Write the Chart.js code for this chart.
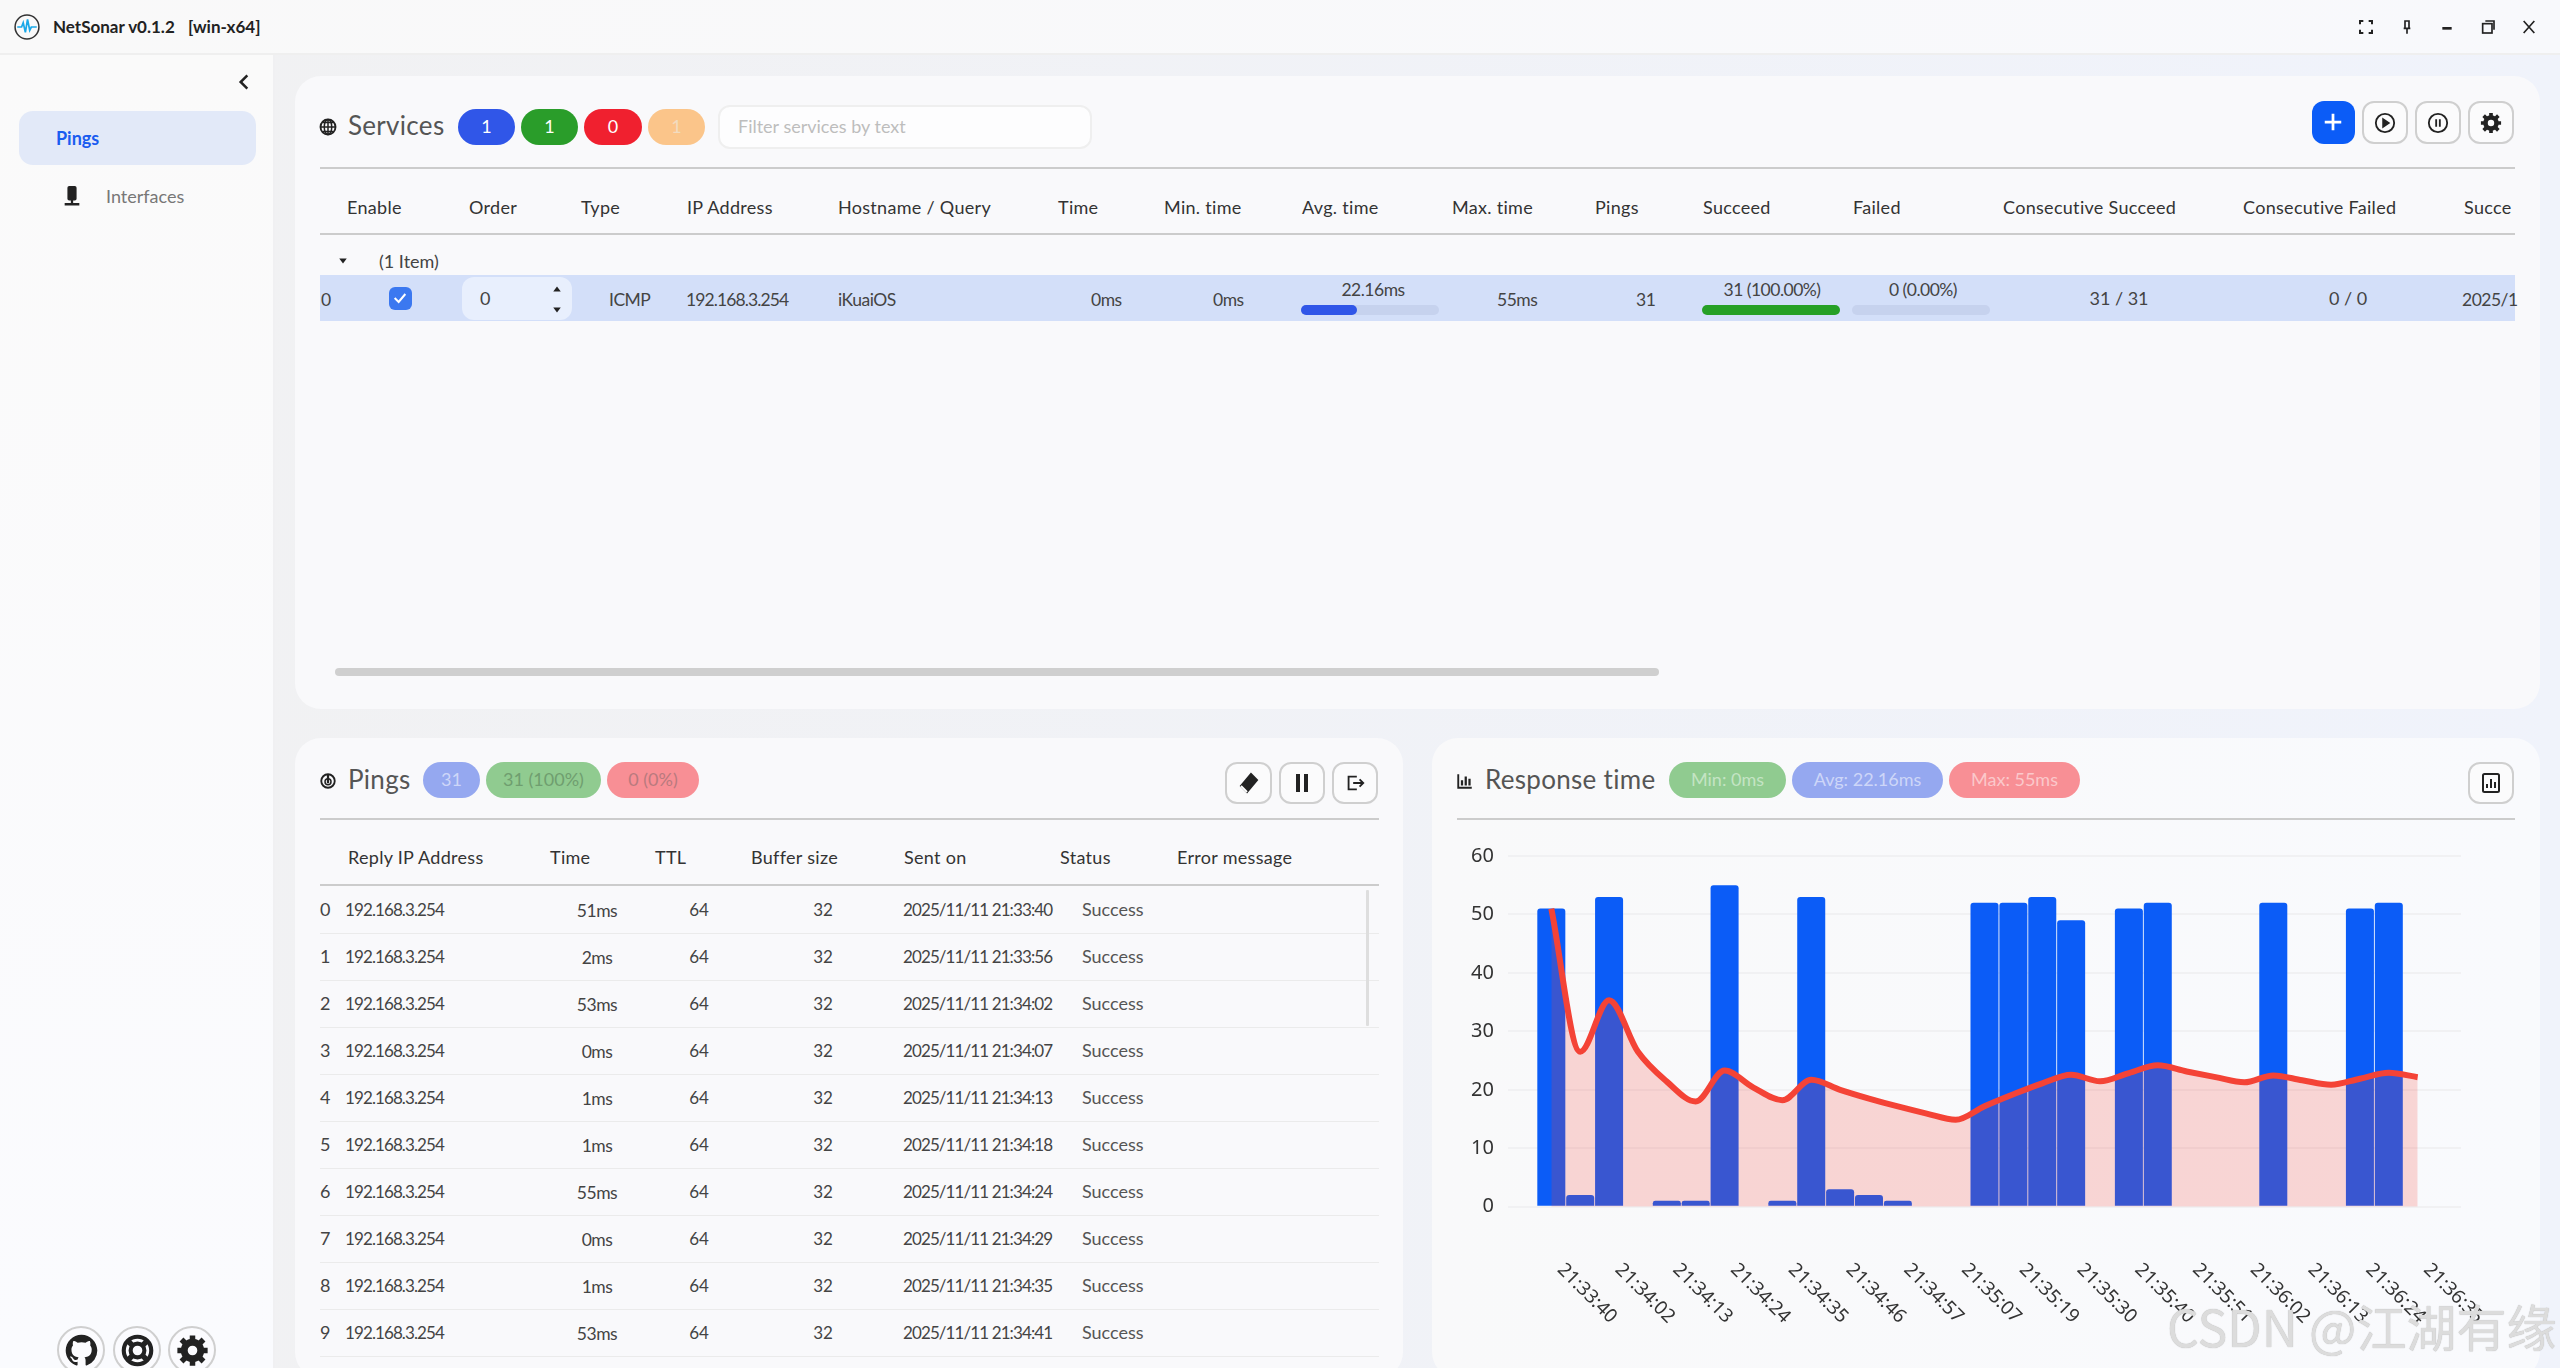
<!DOCTYPE html>
<html>
<head>
<meta charset="utf-8">
<title>NetSonar</title>
<script src="https://cdn.jsdelivr.net/npm/chart.js@4"></script>
<style>
html, body { margin: 0; padding: 0; width: 2560px; height: 1368px; overflow: hidden; }
body { position: relative; background: linear-gradient(90deg, #f1f1f2, #f0f3fb); font-family: Lato, sans-serif; color: #333; }
.box { position: absolute; box-sizing: border-box; }
.box svg { display: block; }
.txt { position: absolute; white-space: nowrap; transform: translateY(-50%); line-height: 1.2; }
.mid { transform: translate(-50%, -50%); }
.btn { position: absolute; box-sizing: border-box; border: 2px solid #cfcfcf; border-radius: 12px; background: #fbfbfc; display: flex; align-items: center; justify-content: center; }
.btn svg { display: block; }
#chartWrap { position: absolute; left: 1440px; top: 830px; width: 1100px; height: 538px; }
</style>
</head>
<body>
<div id="ui"></div>
<div id="chartWrap"><canvas id="responseChart" width="1100" height="538"></canvas></div>
<div id="watermark" class="txt" style="left:2167px;top:1325px;font:50px 'Noto Sans CJK SC';color:#dcdcdc;text-shadow:0 0 1px #aaa;">CSDN @江湖有缘</div>

<script>
"use strict";

// 33 slots, the first and the last one are empty
const categories = ['', '21:33:40', '21:33:56', '21:34:02', '21:34:07', '21:34:13', '21:34:18', '21:34:24', '21:34:29', '21:34:35', '21:34:41',
    '21:34:46', '21:34:51', '21:34:57', '21:35:02', '21:35:07', '21:35:13', '21:35:19', '21:35:24', '21:35:30', '21:35:35',
    '21:35:40', '21:35:46', '21:35:51', '21:35:57', '21:36:02', '21:36:07', '21:36:13', '21:36:18', '21:36:24', '21:36:29', '21:36:35', ''];
const responseTimes = [null, 51, 2, 53, 0, 1, 1, 55, 0, 1, 53, 3, 2, 1, 0, 0, 52, 52, 53, 49, 0, 51, 52, 0, 0, 0, 52, 0, 0, 51, 52, 0, null];
const averageTimes = [null, 51, 26.5, 35.33, 26.5, 21.4, 18, 23.29, 20.38, 18.22, 21.7, 20, 18.5, 17.15, 15.93, 14.87, 17.19, 19.24, 21.11, 22.58, 21.45,
    22.86, 24.18, 23.13, 22.17, 21.28, 22.46, 21.63, 20.86, 21.9, 22.9, 22.16, null];

const serviceColumns = ['Enable', 'Order', 'Type', 'IP Address', 'Hostname / Query', 'Time', 'Min. time', 'Avg. time', 'Max. time', 'Pings', 'Succeed', 'Failed', 'Consecutive Succeed', 'Consecutive Failed', 'Succe'];
const serviceColumnX = [347, 469, 581, 687, 838, 1058, 1164, 1302, 1452, 1595, 1703, 1853, 2003, 2243, 2464];
const pingColumns = ['Reply IP Address', 'Time', 'TTL', 'Buffer size', 'Sent on', 'Status', 'Error message'];
const pingColumnX = [348, 550, 655, 751, 904, 1060, 1177];
const pingTimes = ['51ms', '2ms', '53ms', '0ms', '1ms', '1ms', '55ms', '0ms', '1ms', '53ms'];
const pingSentOn = ['21:33:40', '21:33:56', '21:34:02', '21:34:07', '21:34:13', '21:34:18', '21:34:24', '21:34:29', '21:34:35', '21:34:41'];

const ui = document.getElementById('ui');
const narrow = 'letter-spacing:-0.9px;';
const wide = 'letter-spacing:0.3px;';

function box(x, y, w, h, bg, radius, extra) {
    let el = document.createElement('div');
    el.className = 'box';
    el.style.cssText = `left:${x}px;top:${y}px;width:${w}px;height:${h}px;background:${bg};border-radius:${radius || 0}px;${extra || ''}`;
    ui.appendChild(el);
    return el;
}

function text(str, x, y, size, color, extra, centered) {
    let el = document.createElement('div');
    el.className = centered ? 'txt mid' : 'txt';
    el.textContent = str;
    el.style.cssText = `left:${x}px;top:${y}px;font-size:${size}px;color:${color};${extra || ''}`;
    ui.appendChild(el);
    return el;
}

function pill(str, x, w, y, h, bg, color) {
    box(x, y, w, h, bg, 18);
    text(str, x + w / 2, y + h / 2, 18, color, '', true);
}

function icon(x, y, size, inner) {
    let el = document.createElement('div');
    el.className = 'box';
    el.style.cssText = `left:${x - size / 2}px;top:${y - size / 2}px;width:${size}px;height:${size}px;`;
    el.innerHTML = `<svg width="${size}" height="${size}" viewBox="0 0 24 24" fill="none" stroke="#222" stroke-width="2">${inner}</svg>`;
    ui.appendChild(el);
}

function button(x, y, w, h, inner, size) {
    let el = document.createElement('div');
    el.className = 'btn';
    el.style.cssText = `left:${x}px;top:${y}px;width:${w}px;height:${h}px;`;
    el.innerHTML = `<svg width="${size}" height="${size}" viewBox="0 0 24 24" fill="none" stroke="#222" stroke-width="2">${inner}</svg>`;
    ui.appendChild(el);
}

const gearPath = '<circle cx="12" cy="12" r="6" stroke-width="5"/><path d="M12 1v5M12 18v5M1 12h5M18 12h5M4 4l4 4M16 16l4 4M20 4l-4 4M8 16l-4 4" stroke-width="4"/>';
const playPath = '<circle cx="12" cy="12" r="10"/><path d="M10 8l6 4-6 4z" fill="#222"/>';
const pausePath = '<circle cx="12" cy="12" r="10"/><path d="M10 8v8M14 8v8"/>';
const chartPath = '<rect x="4" y="3" width="16" height="18" rx="1.5"/><path d="M8 17v-4M12 17V8M16 17v-6"/>';
const githubPath = '<path fill="#222" stroke="none" d="M12 .5C5.65.5.5 5.65.5 12c0 5.08 3.29 9.39 7.86 10.91.58.11.79-.25.79-.56v-2.17c-3.2.7-3.87-1.36-3.87-1.36-.53-1.33-1.29-1.69-1.29-1.69-1.05-.72.08-.7.08-.7 1.16.08 1.77 1.19 1.77 1.19 1.03 1.77 2.7 1.26 3.36.96.1-.75.4-1.26.73-1.55-2.55-.29-5.24-1.28-5.24-5.69 0-1.26.45-2.29 1.19-3.09-.12-.29-.52-1.46.11-3.05 0 0 .97-.31 3.18 1.18a11 11 0 0 1 5.79 0c2.21-1.49 3.18-1.18 3.18-1.18.63 1.59.23 2.76.11 3.05.74.8 1.19 1.83 1.19 3.09 0 4.42-2.69 5.4-5.25 5.68.41.36.78 1.06.78 2.14v3.17c0 .31.21.67.79.55A11.5 11.5 0 0 0 23.5 12C23.5 5.65 18.35.5 12 .5z"/>';
const buoyPath = '<circle cx="12" cy="12" r="10" stroke-width="3"/><circle cx="12" cy="12" r="5" stroke-width="3"/><path d="M5 5l4 4M19 5l-4 4M5 19l4-4M19 19l-4-4" stroke-width="4"/>';

// title bar and side bar
box(0, 0, 2560, 55, 'linear-gradient(90deg,#f9f9f9,#f8f9fc)', 0, 'border-bottom:2px solid #efefef;');
box(0, 55, 275, 1313, 'linear-gradient(180deg,#fafafa,#fafbfe)', 0, 'border-right:2px solid #f0f0f2;');
icon(27, 27, 26, '<circle cx="12" cy="12" r="11" stroke="#333" stroke-width="1.4"/><path d="M3 12h4l1.500-4 2 9 2-12 2 10 1.500-3h5" stroke="#1aa8e8" stroke-width="1.6"/>');
text('NetSonar v0.1.2', 53, 27, 17, '#222', 'font-weight:700;');
text('[win-x64]', 188, 27, 17, '#222', 'font-weight:700;');
icon(2366, 27, 16, '<path d="M3 8V3h5M16 3h5v5M21 16v5h-5M8 21H3v-5" stroke-width="3"/>');
icon(2407, 27, 16, '<path d="M9 3h6v11H9zM12 14v8M7 14h10" stroke-width="2.500"/>');
icon(2447, 27, 16, '<path d="M5 14h14" stroke-width="4"/>');
icon(2488, 27, 16, '<rect x="4" y="7" width="14" height="14" stroke-width="2.500"/><path d="M8 3h13v13" stroke-width="2.500"/>');
icon(2529, 27, 16, '<path d="M4 3l16 18M20 3L4 21" stroke-width="2.500"/>');
icon(244, 82, 20, '<path d="M16 4l-8 8 8 8" stroke-width="3"/>');
box(19, 111, 237, 54, '#e2e9f8', 14);
text('Pings', 56, 139, 18, '#1a5cf0', 'font-weight:700;');
icon(72, 196, 22, '<rect x="8" y="2" width="8" height="14" rx="1" fill="#222"/><path d="M12 16v5M4 21h16" stroke-width="2.500"/>');
text('Interfaces', 106, 197, 18, '#777');
[81, 137, 192].forEach((x, i) => {
    box(x - 24, 1326, 48, 48, '#fbfbfe', 24, 'border:2px solid #cfcfcf;');
    icon(x, 1350, 33, [githubPath, buoyPath, gearPath][i]);
});

// services panel
box(295, 76, 2245, 633, '#f9f9fb', 26);
icon(328, 127, 18, '<circle cx="12" cy="12" r="10" stroke-width="2.500"/><path d="M2 12h20M12 2v20M5 6h14M5 18h14" stroke-width="2"/><ellipse cx="12" cy="12" rx="5" ry="10"/>');
text('Services', 348, 126, 26, '#555', wide);
pill('1', 458, 57, 109, 36, '#3056e8', '#fff');
pill('1', 521, 57, 109, 36, '#2a9d2a', '#fff');
pill('0', 584, 58, 109, 36, '#f0202f', '#fff');
pill('1', 648, 57, 109, 36, '#fbc58a', '#f2dcc0');
box(718, 105, 374, 44, '#fdfdfe', 12, 'border:2px solid #efefef;');
text('Filter services by text', 738, 127, 18, '#bdbdbd');
box(2312, 101, 43, 43, '#0b5cf7', 12);
icon(2333, 122, 22, '<path d="M12 3v18M3 12h18" stroke="#fff" stroke-width="3"/>');
button(2362, 101, 46, 43, playPath, 22);
button(2415, 101, 46, 43, pausePath, 22);
button(2468, 101, 46, 43, gearPath, 22);
box(320, 167, 2195, 2, '#cccccc');
box(320, 233, 2195, 2, '#cccccc');

serviceColumns.forEach((name, i) => text(name, serviceColumnX[i], 207.500, 18, '#333', wide));
icon(343, 261, 10, '<path d="M3 6h18l-9 12z" fill="#222" stroke="none"/>');
text('(1 Item)', 379, 262, 18, '#444');

box(320, 275, 2195, 46, '#d3dff9');
[['0', 321], ['ICMP', 609], ['192.168.3.254', 686], ['iKuaiOS', 838], ['0ms', 1091], ['0ms', 1213], ['55ms', 1497], ['31', 1636], ['2025/1', 2462]].forEach(c => {
    text(c[0], c[1], 299, 17.500, '#444', 'letter-spacing:-0.5px;' + (c[0] === '192.168.3.254' ? narrow : ''));
});
box(389, 287, 23, 23, '#3b78f0', 6);
icon(400, 298, 16, '<path d="M4 12l6 6 10-12" stroke="#fff" stroke-width="3"/>');
box(462, 277, 110, 43, '#e8effd', 12);
text('0', 480, 299, 18, '#444');
icon(557, 289, 10, '<path d="M3 18h18L12 6z" fill="#222" stroke="none"/>');
icon(557, 310, 10, '<path d="M3 6h18l-9 12z" fill="#222" stroke="none"/>');
text('22.16ms', 1373, 289, 17.500, '#444', 'letter-spacing:-0.5px;', true);
box(1301, 305, 138, 10, '#c6d2ee', 5);
box(1301, 305, 56, 10, '#3056e8', 5);
text('31 (100.00%)', 1772, 289, 17.500, '#444', 'letter-spacing:-0.5px;', true);
box(1702, 305, 138, 10, '#26a026', 5);
text('0 (0.00%)', 1923, 289, 17.500, '#444', 'letter-spacing:-0.5px;', true);
box(1852, 305, 138, 10, '#c6d2ee', 5);
text('31 / 31', 2119, 299, 18, '#444', '', true);
text('0 / 0', 2348, 299, 18, '#444', '', true);
box(335, 668, 1324, 8, '#cfcfcf', 4);

// pings panel
box(295, 738, 1108, 640, '#f9f9fb', 26);
icon(328, 781, 18, '<circle cx="12" cy="12" r="9" stroke-width="2.500"/><path d="M12 3v12" stroke-width="3"/><circle cx="12" cy="13" r="4" stroke-width="2"/>');
text('Pings', 348, 780, 26, '#555', wide);
pill('31', 423, 57, 762, 36, '#95a8f0', '#cdd6f8');
pill('31 (100%)', 486, 115, 762, 36, '#90cb90', '#6f9e6f');
pill('0 (0%)', 607, 92, 762, 36, '#f88f95', '#b87a7e');
button(1225, 762, 47, 42, '<path d="M14 3l6 6-10 12-6-6z" fill="#222"/><path d="M4 15l6 6" stroke="#fff"/>', 24);
button(1279, 762, 46, 42, '<path d="M8 3v18M16 3v18" stroke-width="4"/>', 24);
button(1332, 762, 46, 42, '<path d="M14 5H5v14h9M10 12h11M17 8l4 4-4 4"/>', 22);
box(320, 818, 1059, 2, '#cccccc');
box(320, 884, 1059, 2, '#cccccc');
pingColumns.forEach((name, i) => text(name, pingColumnX[i], 858, 18, '#333', wide));
pingTimes.forEach((t, i) => {
    let y = 910 + i * 47;
    text(String(i), 320, y, 18, '#444');
    text('192.168.3.254', 345, y, 17, '#444', narrow);
    text(t, 597, y, 17.500, '#444', 'letter-spacing:-0.5px;', true);
    text('64', 699, y, 17, '#444', '', true);
    text('32', 823, y, 17, '#444', '', true);
    text('2025/11/11 ' + pingSentOn[i], 903, y, 17, '#444', narrow);
    text('Success', 1082, y, 18, '#555');
    box(320, y + 23, 1059, 1, '#ebebeb');
});
box(1366, 890, 3, 136, '#dedede', 1);

// response time panel, the chart itself is in the canvas above it
box(1432, 738, 1108, 640, 'linear-gradient(90deg,#f9f9fa,#f9fafd)', 26);
icon(1465, 781, 18, '<path d="M3 3v18h18" stroke-width="2.500"/><path d="M8 18v-7M13 18V6M18 18v-9" stroke-width="3"/>');
text('Response time', 1485, 780, 26, '#555', wide);
pill('Min: 0ms', 1669, 117, 762, 36, '#90cb90', '#c4e4c4');
pill('Avg: 22.16ms', 1792, 151, 762, 36, '#95a8f0', '#cdd6f8');
pill('Max: 55ms', 1949, 131, 762, 36, '#f88f95', '#fbc8cb');
button(2468, 762, 46, 42, chartPath, 24);
box(1457, 818, 1058, 2, '#cccccc');

// The x labels lean down to the right, Chart.js only tilts them the other way
const slantedLabels = {
    id: 'slantedLabels',
    afterDraw(chart) {
        const ctx = chart.ctx;
        const xScale = chart.scales.x;
        ctx.save();
        ctx.font = '19px "Noto Sans"';
        ctx.fillStyle = '#333';
        ctx.textAlign = 'left';
        ctx.textBaseline = 'middle';
        categories.forEach((label, i) => {
            if (i % 2 === 0) return;
            ctx.save();
            ctx.translate(xScale.getPixelForValue(i) + 9, xScale.top + 60);
            ctx.rotate(Math.PI / 4);
            ctx.fillText(label, 0, 0);
            ctx.restore();
        });
        ctx.restore();
    }
};

new Chart(document.getElementById('responseChart'), {
    type: 'bar',
    data: {
        labels: categories,
        datasets: [{
            type: 'line',
            label: 'Average',
            data: averageTimes,
            order: 1,
            borderColor: '#f44336',
            borderWidth: 6,
            backgroundColor: 'rgba(244,67,54,0.2)',
            fill: 'origin',
            pointRadius: 0,
            cubicInterpolationMode: 'monotone'
        }, {
            label: 'Time',
            data: responseTimes,
            order: 2,
            backgroundColor: '#0b5cf7',
            borderRadius: 3,
            categoryPercentage: 0.97,
            barPercentage: 1
        }]
    },
    options: {
        responsive: false,
        animation: false,
        layout: { padding: { top: 25.6, right: 79, bottom: 0, left: 0 } },
        plugins: { legend: { display: false }, tooltip: { enabled: false } },
        scales: {
            x: {
                grid: { display: false },
                border: { display: false },
                ticks: { display: false },
                afterFit(scale) { scale.height = 161.3; }
            },
            y: {
                min: 0,
                max: 60,
                grid: { color: '#f1f1f3', lineWidth: 2, drawTicks: false },
                border: { display: false },
                ticks: { stepSize: 10, padding: 14, color: '#333', font: { family: '"Noto Sans"', size: 20 } },
                afterFit(scale) { scale.width = 68; }
            }
        }
    },
    plugins: [slantedLabels]
});
</script>
</body>
</html>
